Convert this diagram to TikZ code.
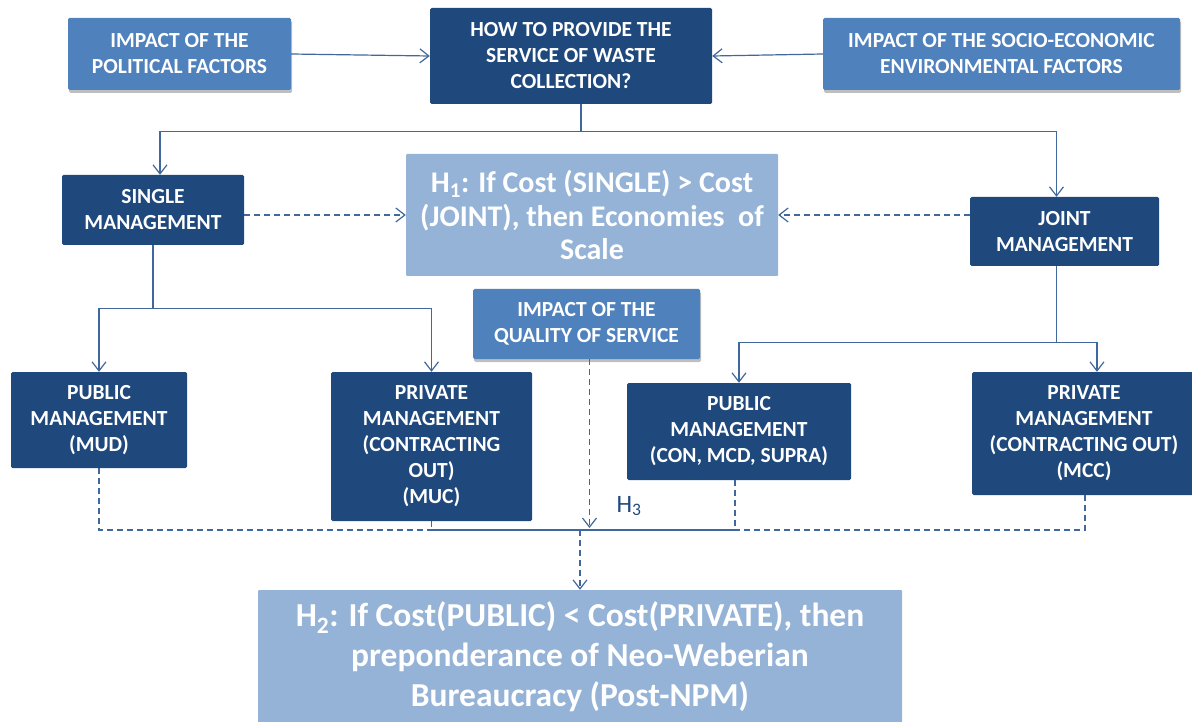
\documentclass[tikz,border=0pt]{standalone}
\usepackage{fontspec}
\setmainfont{Carlito}
\usetikzlibrary{arrows.meta,shadows}
\definecolor{navy}{HTML}{1F497D}
\definecolor{midblue}{HTML}{4F81BD}
\definecolor{lightblue}{HTML}{95B3D7}
\definecolor{linecol}{HTML}{41689C}
\begin{document}
\begin{tikzpicture}[x=1pt,y=-1pt,
  base/.style={rectangle, inner sep=0pt, align=center, text=white,
    font=\bfseries\fontsize{21.5}{26}\selectfont},
  darkbox/.style={base, fill=navy, rounded corners=1.5pt},
  midbox/.style={base, fill=midblue, rounded corners=1.5pt,
    drop shadow={shadow xshift=1pt, shadow yshift=-3pt, opacity=0.25, fill=black}},
  hypbox/.style={base, fill=lightblue, rounded corners=1pt},
  conn/.style={draw=linecol, line width=1.2pt},
  tip/.style={-{Straight Barb[length=9pt,width=14pt]}},
  arr/.style={conn, tip},
  dsh/.style={conn, dash pattern=on 6pt off 4pt}
]
\useasboundingbox (0,0) rectangle (1192,722);

% top row
\node[midbox, minimum width=223pt, minimum height=72pt] (political) at (179.5,54) {IMPACT OF THE\\POLITICAL FACTORS};
\node[darkbox, minimum width=282pt, minimum height=96pt] (question) at (571,56) {HOW TO PROVIDE THE\\SERVICE OF WASTE\\COLLECTION?};
\node[midbox, minimum width=357pt, minimum height=72pt] (socio) at (1001.5,54) {IMPACT OF THE SOCIO-ECONOMIC\\ENVIRONMENTAL FACTORS};

% second row
\node[darkbox, minimum width=182pt, minimum height=70pt] (single) at (153,210) {SINGLE\\MANAGEMENT};
\node[hypbox, minimum width=372pt, minimum height=122pt, font=\bfseries\fontsize{30}{33.5}\selectfont] (h1) at (592,215)
  {H\textsubscript{1}: If Cost (SINGLE) > Cost\\(JOINT), then Economies\ \ of\\Scale};
\node[darkbox, minimum width=189pt, minimum height=69pt] (joint) at (1064.5,231.5) {JOINT\\MANAGEMENT};

\node[midbox, minimum width=227pt, minimum height=70pt] (quality) at (586.5,324) {IMPACT OF THE\\QUALITY OF SERVICE};

% third row
\node[darkbox, minimum width=176pt, minimum height=96pt] (public1) at (99,420) {PUBLIC\\MANAGEMENT\\(MUD)};
\node[darkbox, minimum width=201pt, minimum height=149pt] (private1) at (431.5,446.5) {PRIVATE\\MANAGEMENT\\(CONTRACTING\\OUT)\\(MUC)};
\node[darkbox, minimum width=224pt, minimum height=97pt] (public2) at (739,431.5) {PUBLIC\\MANAGEMENT\\(CON, MCD, SUPRA)};
\node[darkbox, minimum width=224pt, minimum height=123pt] (private2) at (1084,433.5) {PRIVATE\\MANAGEMENT\\(CONTRACTING OUT)\\(MCC)};

% bottom hypothesis
\node[hypbox, minimum width=644pt, minimum height=134pt, font=\bfseries\fontsize{33.5}{40}\selectfont] (h2) at (580,657)
  {H\textsubscript{2}: If Cost(PUBLIC) < Cost(PRIVATE), then\\preponderance of Neo-Weberian\\Bureaucracy (Post-NPM)};

\node[text=navy, font=\fontsize{25}{28}\selectfont] (h3) at (629,506) {H\textsubscript{3}};

% connectors top
\draw[arr] (political.east) -- (question.west);
\draw[arr] (socio.west) -- (question.east);
\draw[arr] ([xshift=10pt]question.south) -- ++(0,27) -| ([xshift=7pt]single.north);
\draw[arr] ([xshift=10pt]question.south) -- ++(0,27) -| ([xshift=-8pt]joint.north);

% hypothesis 1 dashed
\draw[dsh, tip] (single.east |- h1.west) -- (h1.west);
\draw[dsh, tip] (joint.west |- h1.east) -- (h1.east);

% branches
\draw[arr] (single.south) -- ++(0,63) -| (public1.north);
\draw[arr] (single.south) -- ++(0,63) -| (private1.north);
\draw[arr] ([xshift=-8pt]joint.south) -- ++(0,76) -| (public2.north);
\draw[arr] ([xshift=-8pt]joint.south) -- ++(0,76) -| ([xshift=13pt]private2.north);

% dashed merge
\coordinate (m) at (580,530);
\draw[dsh] (public1.south) |- (m);
\draw[dsh] (private1.south) |- (m);
\draw[dsh] ([xshift=-4pt]public2.south) |- (m);
\draw[dsh] ([xshift=1pt]private2.south) |- (m);
\draw[dsh, tip] ([xshift=3pt]quality.south) -- ([xshift=3pt]quality.south |- 0,528);
\draw[dsh, tip] (m) -- (m |- h2.north);
\end{tikzpicture}
\end{document}
